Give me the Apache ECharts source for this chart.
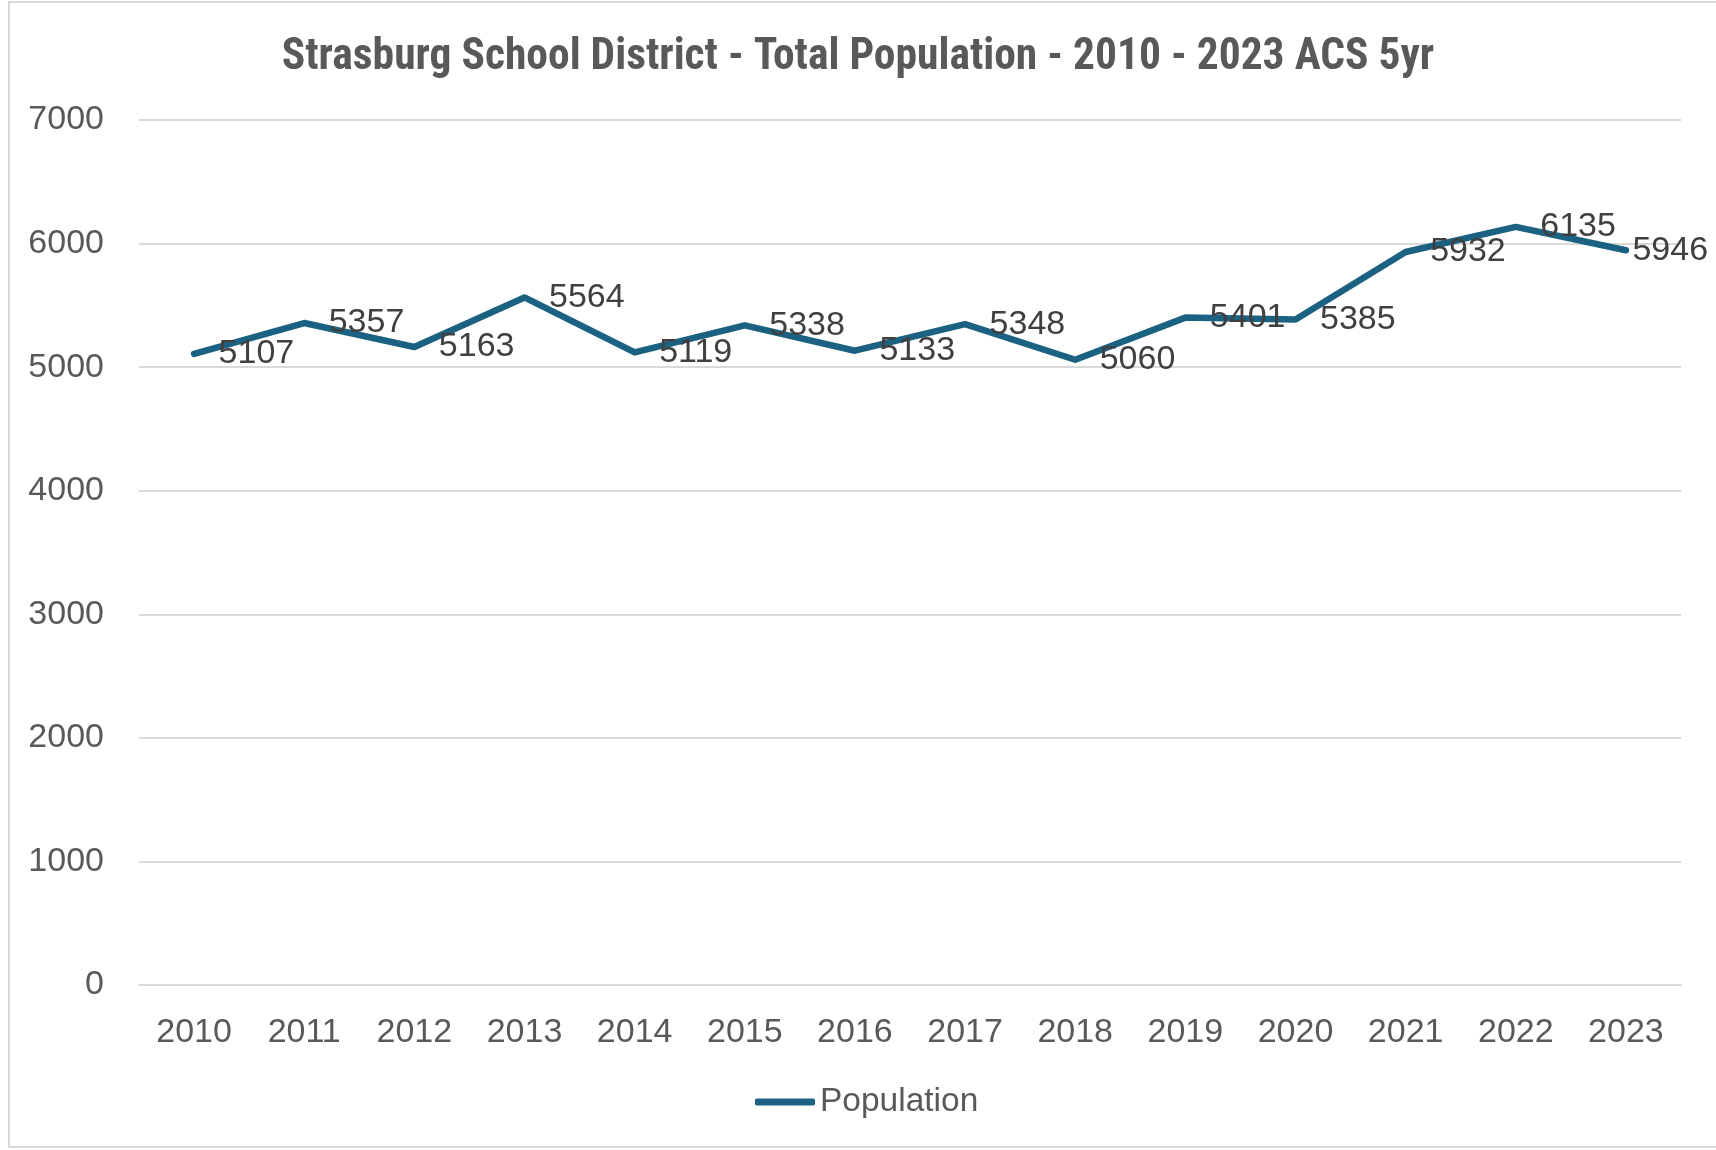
<!DOCTYPE html>
<html>
<head>
<meta charset="utf-8">
<script src="https://cdn.jsdelivr.net/npm/echarts@6/dist/echarts.min.js"></script>
<style>
html,body{margin:0;padding:0;background:#fff;}
#c{width:1716px;height:1150px;}
</style>
</head>
<body>
<div id="c"></div>
<script>
const titleText = 'Strasburg School District - Total Population - 2010 - 2023 ACS 5yr';
const years = ['2010','2011','2012','2013','2014','2015','2016','2017','2018','2019','2020','2021','2022','2023'];
const population = [5107,5357,5163,5564,5119,5338,5133,5348,5060,5401,5385,5932,6135,5946];
const seriesName = 'Population';

// last label is pulled in close to the point (as Excel does at the plot edge)
const seriesData = population.map(function(v, i){
  if (i === population.length - 1) return {value:v, label:{distance:6}};
  return v;
});

const chart = echarts.init(document.getElementById('c'), null, {renderer:'canvas'});
chart.setOption({
  backgroundColor:'#fff',
  animation:false,
  graphic:[{
    type:'rect', shape:{x:9, y:2, width:1720, height:1145},
    style:{fill:'none', stroke:'#d9d9d9', lineWidth:2}, silent:true
  }],
  title:{
    text:titleText, left:'center', top:31,
    textStyle:{fontFamily:'"Liberation Sans Narrow", "Roboto Condensed", Roboto, sans-serif', fontWeight:'bold', fontSize:43.5, color:'#595959'}
  },
  legend:{
    data:[{name:seriesName, icon:'roundRect'}], bottom:26, left:750,
    itemWidth:60, itemHeight:7, itemGap:6,
    textStyle:{fontFamily:'"Liberation Sans", Arial, sans-serif', fontSize:33.5, color:'#595959'}
  },
  grid:{left:139, right:35, top:120, bottom:165, containLabel:false},
  xAxis:{
    type:'category', data:years, boundaryGap:true,
    axisLine:{show:true, lineStyle:{color:'#d9d9d9', width:2}},
    axisTick:{show:false},
    axisLabel:{margin:31, fontFamily:'"Liberation Sans", Arial, sans-serif', fontSize:34, color:'#595959'}
  },
  yAxis:{
    type:'value', min:0, max:7000, interval:1000,
    axisLine:{show:false}, axisTick:{show:false},
    splitLine:{lineStyle:{color:'#d9d9d9', width:2}},
    axisLabel:{margin:35, formatter:function(v){return String(v);}, fontFamily:'"Liberation Sans", Arial, sans-serif', fontSize:34, color:'#595959'}
  },
  series:[{
    name:seriesName, type:'line', data:seriesData,
    symbol:'circle', symbolSize:1, showSymbol:true,
    lineStyle:{color:'#1b6182', width:6.5, cap:'round', join:'round'},
    itemStyle:{color:'#1b6182'},
    label:{show:true, position:'right', distance:24, padding:[8,0,0,0], fontFamily:'"Liberation Sans", Arial, sans-serif', fontSize:34, color:'#404040'},
    labelLayout:{hideOverlap:false}
  }]
});
</script>
</body>
</html>
